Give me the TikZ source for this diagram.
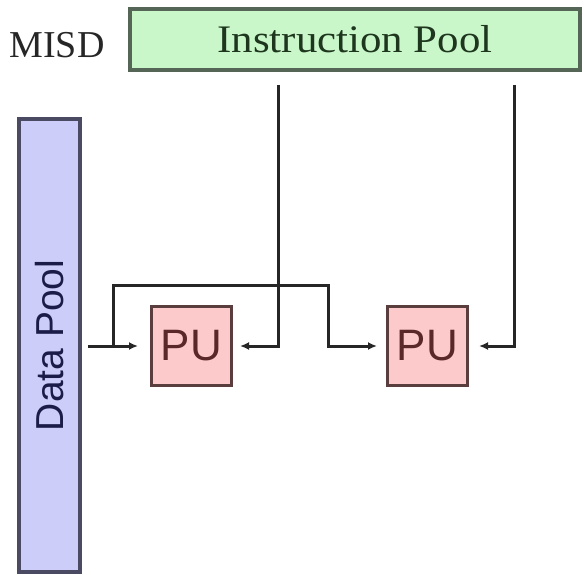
\documentclass[tikz,border=0pt]{standalone}
\usepackage{fontspec}
\setmainfont{Liberation Serif}
\setsansfont{Liberation Sans}
\usepackage{graphicx}
\usetikzlibrary{arrows.meta,positioning}
\definecolor{Mint}{HTML}{C9F7C9}
\definecolor{MintEdge}{HTML}{566656}
\definecolor{MintText}{HTML}{1E361E}
\definecolor{Lilac}{HTML}{CDCDFA}
\definecolor{LilacEdge}{HTML}{4A4A62}
\definecolor{LilacText}{HTML}{1C1C48}
\definecolor{Blush}{HTML}{FCCACA}
\definecolor{BlushEdge}{HTML}{5A3E3E}
\definecolor{BlushText}{HTML}{5A2828}
\definecolor{Wire}{HTML}{262626}

\begin{document}
\begin{tikzpicture}[x=1pt, y=-1pt, >={Latex[length=9pt,width=8pt]},
    pubox/.style={draw=BlushEdge, fill=Blush, line width=3.4pt, minimum width=79.6pt, minimum height=78.6pt, inner sep=0pt, text=BlushText, font=\sffamily\fontsize{44}{44}\selectfont},
    wire/.style={draw=Wire, line width=3pt}]
    \useasboundingbox (0,0) rectangle (584,575);
    \node[draw=MintEdge, fill=Mint, line width=3.6pt, minimum width=450.4pt, minimum height=61.4pt, inner sep=0pt, text=MintText, font=\fontsize{39}{39}\selectfont] (pool) at (355,39.5) {\scalebox{1.1}[1]{Instruction Pool}};
    \node[font=\fontsize{38}{38}\selectfont, text=black!85] (misd) at (57,45) {MISD};
    \node[draw=LilacEdge, fill=Lilac, line width=3.6pt, minimum width=61.4pt, minimum height=453.4pt, inner sep=0pt, text=LilacText, font=\sffamily\fontsize{39}{39}\selectfont] (data) at (49.5,345.5) {\rotatebox{90}{Data Pool}};
    \node[pubox] (pu1) at (191.5,346) {PU};
    \node[pubox, right=153pt of pu1] (pu2) {PU};
    \coordinate (fork) at (113,346);
    \coordinate (hop) at (328,285);
    \coordinate (feedA) at (278,0);
    \coordinate (feedB) at (514,0);
    \draw[wire, ->, shorten <=6pt, shorten >=12pt] (data.east |- pu1.west) -- (pu1.west);
    \draw[wire, ->, shorten >=9pt] (fork) |- (hop) |- (pu2.west);
    \draw[wire, ->, shorten <=13pt, shorten >=7pt] (pool.south -| feedA) |- (pu1.east);
    \draw[wire, ->, shorten <=13pt, shorten >=10pt] (pool.south -| feedB) |- (pu2.east);
  \end{tikzpicture}
\end{document}
